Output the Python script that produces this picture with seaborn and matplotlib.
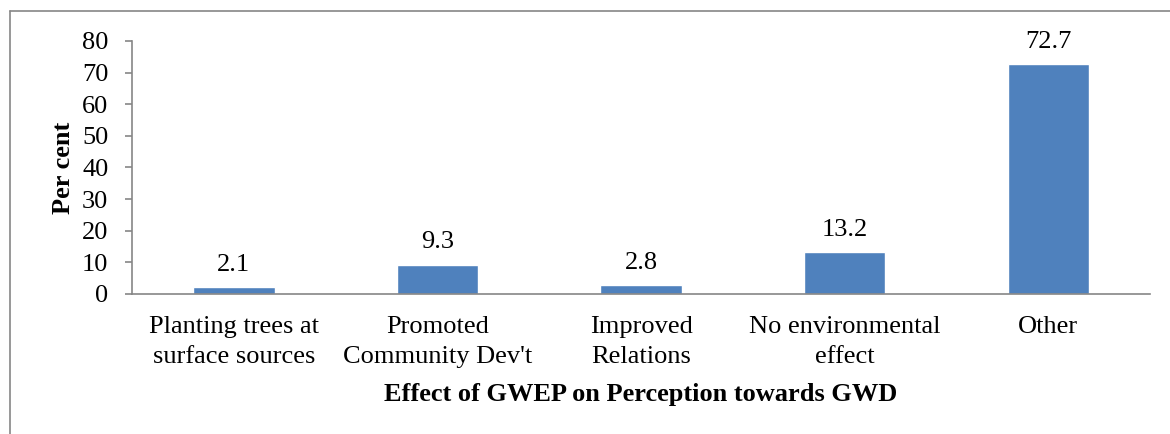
import pandas as pd
import matplotlib.pyplot as plt
import seaborn as sns
from matplotlib.lines import Line2D

categories = [
    "Planting trees at\nsurface sources",
    "Promoted\nCommunity Dev't",
    "Improved\nRelations",
    "No environmental\neffect",
    "Other",
]
values = [2.1, 9.3, 2.8, 13.2, 72.7]
y_ticks = [0, 10, 20, 30, 40, 50, 60, 70, 80]

df = pd.DataFrame({"effect": categories, "percent": values})

sns.set_style("white")
plt.rcParams["font.family"] = ["Liberation Serif", "DejaVu Serif"]
plt.rcParams["text.color"] = "black"
plt.rcParams["axes.labelcolor"] = "black"
plt.rcParams["xtick.color"] = "black"
plt.rcParams["ytick.color"] = "black"

fig = plt.figure(figsize=(11.7, 4.34), dpi=100)
ax = fig.add_axes([0.1128, 0.3226, 0.8702, 0.583])

sns.barplot(x="effect", y="percent", data=df, color="#4F81BD",
            width=0.4, saturation=1, ax=ax)

for i, v in enumerate(values):
    ax.annotate(f"{v}", (i, v), xytext=(0, 8), textcoords="offset points",
                ha="center", va="bottom", fontsize=19)

ax.set_ylim(0, 80)
ax.set_xlim(-0.5, 4.5)
ax.set_yticks(y_ticks)
ax.set_xticks(range(len(categories)), categories, linespacing=1.45)
ax.tick_params(axis="y", labelsize=19, length=5, width=1.2, color="#868686",
               labelcolor="black", left=True, pad=12)
ax.tick_params(axis="x", labelsize=19, length=0, pad=16, labelcolor="black")

for side in ["top", "right"]:
    ax.spines[side].set_visible(False)
for side in ["left", "bottom"]:
    ax.spines[side].set_color("#868686")
    ax.spines[side].set_linewidth(1.2)

ax.set_xlabel("Effect of GWEP on Perception towards GWD",
              fontsize=19, fontweight="bold", labelpad=11)
ax.set_ylabel("Per cent", fontsize=19, fontweight="bold", labelpad=5)

# outer frame (only left and top are visible in the crop)
fig.add_artist(Line2D([10 / 1170, 10 / 1170], [0, 1 - 11 / 434],
                      transform=fig.transFigure, color="#868686", lw=1.2))
fig.add_artist(Line2D([10 / 1170, 1], [1 - 11 / 434, 1 - 11 / 434],
                      transform=fig.transFigure, color="#868686", lw=1.2))

plt.savefig("out.png", dpi=100)
